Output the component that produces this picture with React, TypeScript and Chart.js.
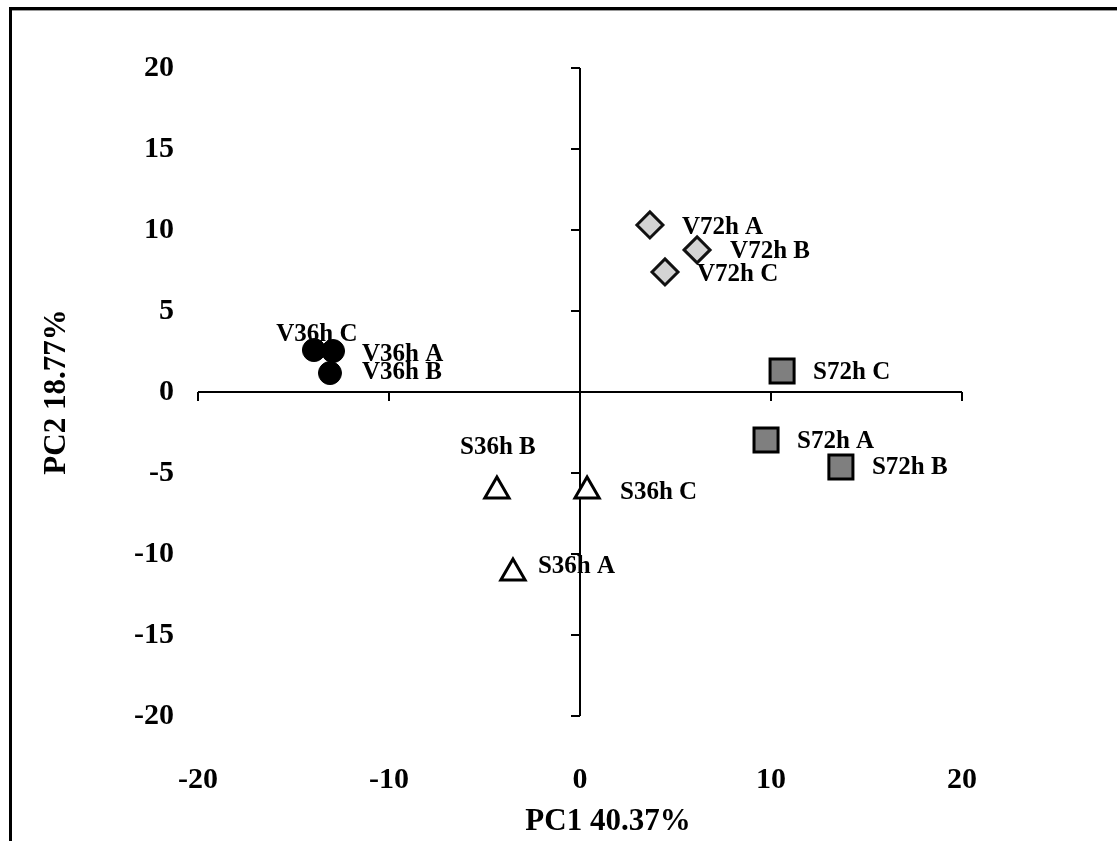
import React, { useEffect, useRef } from "react";
import { Chart, registerables } from "chart.js";

Chart.register(...registerables);

// ---- data ----
const v36hNames = ["V36h A", "V36h B", "V36h C"];
const v36hPC1 = [-12.93, -13.09, -13.93];
const v36hPC2 = [2.53, 1.17, 2.59];

const v72hNames = ["V72h A", "V72h B", "V72h C"];
const v72hPC1 = [3.66, 6.13, 4.45];
const v72hPC2 = [10.31, 8.77, 7.41];

const s36hNames = ["S36h A", "S36h B", "S36h C"];
const s36hPC1 = [-3.51, -4.35, 0.37];
const s36hPC2 = [-11.17, -6.11, -6.11];

const s72hNames = ["S72h A", "S72h B", "S72h C"];
const s72hPC1 = [9.74, 13.66, 10.58];
const s72hPC2 = [-2.96, -4.63, 1.3];

const xTickValues = [-20, -10, 0, 10, 20];
const yTickValues = [-20, -15, -10, -5, 0, 5, 10, 15, 20];

const xTitle = "PC1 40.37%";
const yTitle = "PC2 18.77%";

// ---- label placement (style: pixel offsets from marker) ----
const v36hLabelPos: [number, number, CanvasTextAlign][] = [[29, 4, "left"], [32, 0, "left"], [3, -15, "center"]];
const v72hLabelPos: [number, number, CanvasTextAlign][] = [[32, 3, "left"], [33, 2, "left"], [32, 3, "left"]];
const s36hLabelPos: [number, number, CanvasTextAlign][] = [[25, -6, "left"], [1, -43, "center"], [33, 2, "left"]];
const s72hLabelPos: [number, number, CanvasTextAlign][] = [[31, 2, "left"], [31, 1, "left"], [31, 2, "left"]];

const FONT = '"Liberation Serif", "Times New Roman", serif';

const pts = (xs: number[], ys: number[]) => xs.map((x, i) => ({ x, y: ys[i] }));

export default function App() {
  const ref = useRef<HTMLCanvasElement | null>(null);

  useEffect(() => {
    if (!ref.current) return;

    const names = [v36hNames, v72hNames, s36hNames, s72hNames];
    const labelPos = [v36hLabelPos, v72hLabelPos, s36hLabelPos, s72hLabelPos];

    const framePlugin = {
      id: "frame",
      beforeDraw(chart: any) {
        const ctx = chart.ctx;
        ctx.save();
        ctx.fillStyle = "#fff";
        ctx.fillRect(0, 0, chart.width, chart.height);
        ctx.fillStyle = "#000";
        ctx.fillRect(9, 7, chart.width - 9, 3);
        ctx.fillRect(9, 7, 3, chart.height - 7);
        ctx.fillStyle = "#999";
        ctx.fillRect(12, 10, chart.width - 12, 1);
        ctx.restore();
      },
    };

    const crossAxesPlugin = {
      id: "crossAxes",
      beforeDatasetsDraw(chart: any) {
        const ctx = chart.ctx;
        const xs = chart.scales.x;
        const ys = chart.scales.y;
        const x0 = xs.getPixelForValue(0);
        const y0 = ys.getPixelForValue(0);
        ctx.save();
        ctx.strokeStyle = "#000";
        ctx.lineWidth = 2;
        ctx.beginPath();
        ctx.moveTo(xs.getPixelForValue(xTickValues[0]), y0);
        ctx.lineTo(xs.getPixelForValue(xTickValues[xTickValues.length - 1]), y0);
        xTickValues.forEach((t) => {
          const px = xs.getPixelForValue(t);
          ctx.moveTo(px, y0);
          ctx.lineTo(px, y0 + 9);
        });
        ctx.moveTo(x0, ys.getPixelForValue(yTickValues[yTickValues.length - 1]));
        ctx.lineTo(x0, ys.getPixelForValue(yTickValues[0]));
        yTickValues.forEach((t) => {
          const py = ys.getPixelForValue(t);
          ctx.moveTo(x0 - 9, py);
          ctx.lineTo(x0, py);
        });
        ctx.stroke();
        ctx.restore();
      },
    };

    const labelPlugin = {
      id: "pointLabels",
      afterDatasetsDraw(chart: any) {
        const ctx = chart.ctx;
        ctx.save();
        ctx.fillStyle = "#000";
        ctx.font = `bold 25px ${FONT}`;
        ctx.textBaseline = "middle";
        chart.data.datasets.forEach((_: any, di: number) => {
          const meta = chart.getDatasetMeta(di);
          meta.data.forEach((el: any, j: number) => {
            const [dx, dy, align] = labelPos[di][j];
            ctx.textAlign = align;
            ctx.fillText(names[di][j], el.x + dx, el.y + dy);
          });
        });
        // x-axis title (slightly right of centre, as in the original)
        const ca = chart.chartArea;
        ctx.font = `bold 31px ${FONT}`;
        ctx.textAlign = "center";
        ctx.fillText(xTitle, (ca.left + ca.right) / 2 + 28, 822);
        ctx.restore();
      },
    };

    const chart = new Chart(ref.current, {
      type: "scatter",
      data: {
        datasets: [
          {
            label: "V36h",
            data: pts(v36hPC1, v36hPC2),
            pointStyle: "circle",
            pointRadius: 11.5,
            backgroundColor: "#000",
            borderColor: "#000",
            borderWidth: 1,
          },
          {
            label: "V72h",
            data: pts(v72hPC1, v72hPC2),
            pointStyle: "rectRot",
            pointRadius: 13,
            backgroundColor: "#d4d4d4",
            borderColor: "#111",
            borderWidth: 3,
          },
          {
            label: "S36h",
            data: pts(s36hPC1, s36hPC2),
            pointStyle: "triangle",
            pointRadius: 14,
            backgroundColor: "#fff",
            borderColor: "#000",
            borderWidth: 3,
          },
          {
            label: "S72h",
            data: pts(s72hPC1, s72hPC2),
            pointStyle: "rect",
            pointRadius: 17,
            backgroundColor: "#7f7f7f",
            borderColor: "#000",
            borderWidth: 3,
          },
        ],
      },
      options: {
        responsive: false,
        animation: false,
        devicePixelRatio: 1,
        layout: { padding: { left: 0, top: 68, right: 155, bottom: 0 } },
        plugins: {
          legend: { display: false },
          tooltip: { enabled: false },
        },
        scales: {
          x: {
            type: "linear",
            min: -20,
            max: 20,
            afterBuildTicks: (scale: any) => {
              scale.ticks = xTickValues.map((v) => ({ value: v }));
            },
            afterFit: (scale: any) => {
              scale.height = 125;
            },
            grid: { display: false, drawTicks: false },
            border: { display: false },
            ticks: {
              color: "#000",
              padding: 46,
              maxRotation: 0,
              font: { family: FONT, size: 30, weight: "bold" },
            },
            title: { display: false, text: xTitle },
          },
          y: {
            type: "linear",
            min: -20,
            max: 20,
            afterBuildTicks: (scale: any) => {
              scale.ticks = yTickValues.map((v) => ({ value: v }));
            },
            afterFit: (scale: any) => {
              scale.width = 198;
            },
            grid: { display: false, drawTicks: false },
            border: { display: false },
            ticks: {
              color: "#000",
              padding: 24,
              font: { family: FONT, size: 30, weight: "bold" },
            },
            title: {
              display: true,
              text: yTitle,
              color: "#000",
              padding: { top: 38, bottom: 0 },
              font: { family: FONT, size: 31, weight: "bold" },
            },
          },
        },
      },
      plugins: [framePlugin, crossAxesPlugin, labelPlugin],
    } as any);

    return () => chart.destroy();
  }, []);

  return (
    <div style={{ position: "absolute", left: 0, top: 0, width: 1117, height: 841 }}>
      <canvas ref={ref} width={1117} height={841} style={{ display: "block", width: 1117, height: 841 }} />
    </div>
  );
}
